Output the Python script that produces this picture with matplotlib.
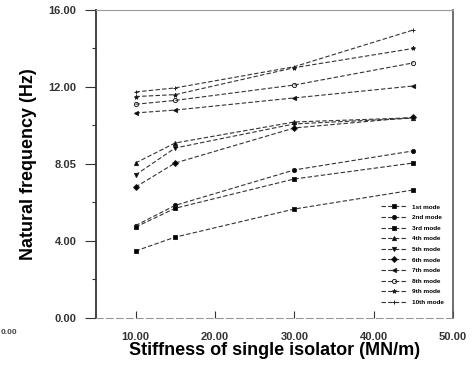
import matplotlib.pyplot as plt
import numpy as np

plt.rcParams['font.family'] = ['Liberation Sans', 'DejaVu Sans']
plt.rcParams['font.weight'] = 'bold'

# stiffness of single isolator (MN/m)
stiffness = [10, 15, 30, 45]

# natural frequency of each mode (Hz)
mode1 = [3.48, 4.20, 5.66, 6.65]
mode2 = [4.80, 5.85, 7.69, 8.68]
mode3 = [4.72, 5.70, 7.22, 8.05]
mode4 = [8.05, 9.09, 10.18, 10.40]
mode5 = [7.43, 8.83, 10.08, 10.38]
mode6 = [6.80, 8.05, 9.87, 10.42]
mode7 = [10.65, 10.80, 11.43, 12.05]
mode8 = [11.10, 11.30, 12.10, 13.25]
mode9 = [11.50, 11.60, 13.00, 14.00]
mode10 = [11.74, 11.95, 13.05, 14.96]

modes = [mode1, mode2, mode3, mode4, mode5, mode6, mode7, mode8, mode9, mode10]
labels = ['1st mode', '2nd mode', '3rd mode', '4th mode', '5th mode',
          '6th mode', '7th mode', '8th mode', '9th mode', '10th mode']
markers = ['s', 'o', 's', '^', 'v', 'D', '<', 'o', '*', '+']
fills = ['k', 'k', 'k', 'k', 'k', 'k', 'k', 'none', 'k', 'k']

fig = plt.figure(figsize=(4.72, 3.67), dpi=100)
ax = fig.add_axes([0.203, 0.1335, 0.757, 0.8395])

for vals, lab, m, fc in zip(modes, labels, markers, fills):
    ax.plot(stiffness, vals, linestyle=(0, (4, 2)), color='#333333', lw=0.8,
            marker=m, markersize=3, markerfacecolor=fc, markeredgecolor='#222222',
            markeredgewidth=0.7, label=lab)

ax.set_xlim(5, 50)
ax.set_ylim(0, 16)
ax.set_xticks([10, 20, 30, 40, 50])
ax.set_xticklabels(['10.00', '20.00', '30.00', '40.00', '50.00'])
ax.set_yticks([0, 4, 8, 12, 16])
ax.set_yticklabels(['0.00', '4.00', '8.05', '12.00', '16.00'])
ax.set_yticks([2, 6, 10, 14], minor=True)

ax.tick_params(axis='y', which='major', direction='out', length=8, width=0.8,
               labelsize=8, pad=6, colors='#333333')
ax.tick_params(axis='y', which='minor', direction='out', length=3, width=0.8,
               colors='#333333')
ax.tick_params(axis='x', which='major', direction='in', length=5, width=0.8,
               labelsize=8, pad=10, colors='#333333')

for s in ax.spines.values():
    s.set_color('#555555')
    s.set_linewidth(0.8)
ax.spines['left'].set_linewidth(1.3)
ax.spines['left'].set_color('#333333')
ax.spines['right'].set_linewidth(1.2)
ax.spines['top'].set_color('#999999')
ax.spines['bottom'].set_color('#999999')
ax.spines['bottom'].set_linestyle((0, (6, 3)))

ax.set_ylabel('Natural frequency (Hz)', fontsize=13, fontweight='bold', labelpad=8)
ax.set_xlabel('Stiffness of single isolator (MN/m)', fontsize=13, fontweight='bold', labelpad=0)

ax.legend(loc='lower right', bbox_to_anchor=(0.985, 0.03), frameon=False,
          fontsize=4.6, handlelength=4, labelspacing=0.8, handletextpad=0.8,
          borderaxespad=0.2)

fig.text(0.002, 0.095, '0.00', ha='left', va='center', fontsize=6, color='#444444')

fig.savefig('out.png', dpi=100)
